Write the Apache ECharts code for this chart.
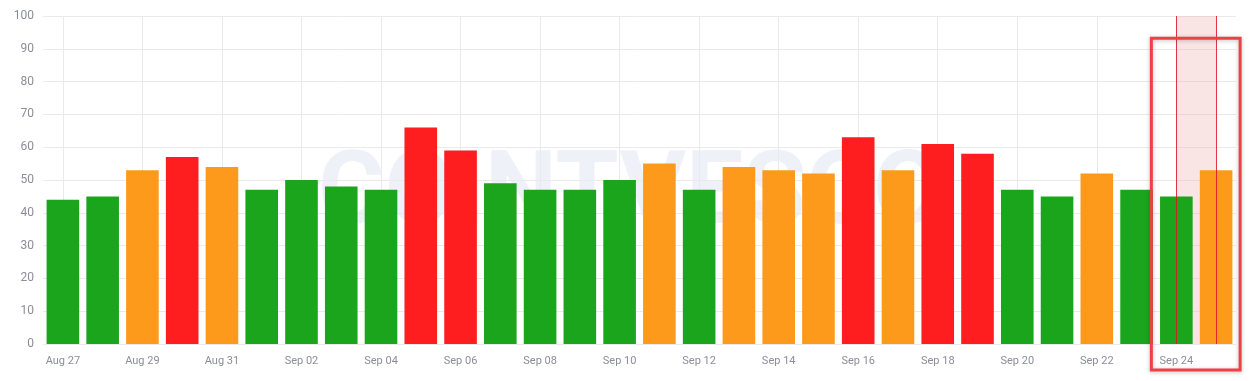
<!DOCTYPE html>
<html>
<head>
<meta charset="utf-8">
<script src="https://cdn.jsdelivr.net/npm/echarts@6/dist/echarts.min.js"></script>
<style>
html,body{margin:0;padding:0;background:#fff;}
#c{width:1250px;height:381px;}
</style>
</head>
<body>
<div id="c"></div>
<script>
const categories = ["Aug 27","Aug 28","Aug 29","Aug 30","Aug 31","Sep 01","Sep 02","Sep 03","Sep 04","Sep 05","Sep 06","Sep 07","Sep 08","Sep 09","Sep 10","Sep 11","Sep 12","Sep 13","Sep 14","Sep 15","Sep 16","Sep 17","Sep 18","Sep 19","Sep 20","Sep 21","Sep 22","Sep 23","Sep 24","Sep 25"];
const values = [44,45,53,57,54,47,50,48,47,66,59,49,47,47,50,55,47,54,53,52,63,53,61,58,47,45,52,47,45,53];
const levels = ["g","g","o","r","o","g","g","g","g","r","r","g","g","g","g","o","g","o","o","o","r","o","r","r","g","g","o","g","g","o"];
const yTicks = [0,10,20,30,40,50,60,70,80,90,100];
const highlightFrom = "Sep 24";
const highlightTo = "Sep 25";

const palette = {g:"#1aa51d", o:"#fd9a1b", r:"#fe1d1f"};

const chart = echarts.init(document.getElementById('c'), null, {renderer:'canvas'});

const gridLineCats = categories.filter((c,i)=> i % 2 === 0);

const option = {
  animation:false,
  backgroundColor:'#fff',
  grid:{left:43, right:14, top:16, bottom:37, containLabel:false},
  xAxis:{
    type:'category',
    data:categories,
    axisLine:{show:false},
    axisTick:{show:false},
    splitLine:{show:false},
    axisLabel:{
      interval:1,
      color:'#8b8d99',
      fontFamily:'Roboto',
      fontSize:11,
      margin:12
    }
  },
  yAxis:{
    type:'value',
    min:yTicks[0],
    max:yTicks[yTicks.length-1],
    interval:yTicks[1]-yTicks[0],
    axisLine:{show:false},
    axisTick:{show:false},
    axisLabel:{color:'#8b8d99', fontFamily:'Roboto', fontSize:12, margin:9},
    splitLine:{lineStyle:{color:'#e9e9ee', width:1}}
  },
  series:[
    {
      type:'line',
      data:[],
      z:0,
      silent:true,
      markLine:{
        silent:true,
        symbol:'none',
        z:0,
        label:{show:false},
        lineStyle:{color:'#e9e9ee', width:1, type:'solid'},
        data: gridLineCats.map(c=>({xAxis:c}))
      },
      markArea:{
        silent:true,
        z:0,
        itemStyle:{color:'rgba(240,170,170,0.3)'},
        data:[[{xAxis:highlightFrom},{xAxis:highlightTo}]]
      }
    },
    {
      type:'bar',
      barWidth:'82%',
      z:2,
      data: values.map((v,i)=>({value:v, itemStyle:{color:palette[levels[i]]}})),
      markLine:{
        silent:true,
        symbol:'none',
        z:10,
        label:{show:false},
        lineStyle:{color:'rgba(220,20,40,0.85)', width:1, type:'solid'},
        data:[{xAxis:highlightFrom},{xAxis:highlightTo}]
      }
    }
  ],
  graphic:[
    {
      type:'text',
      left:318,
      top:146,
      z:-1,
      silent:true,
      style:{
        text:'COINTVESCO',
        font:'bold 102px Roboto',
        fill:'rgba(225,230,242,0.55)'
      }
    }
  ]
};
chart.setOption(option);

// annotation box around the highlighted day
const p1 = chart.convertToPixel({xAxisIndex:0, yAxisIndex:0}, [highlightFrom, 92]);
const p2 = chart.convertToPixel({xAxisIndex:0, yAxisIndex:0}, [highlightTo, 0]);
chart.setOption({
  graphic:[
    option.graphic[0],
    {
      type:'rect',
      z:100,
      silent:true,
      shape:{x:p1[0]-25, y:p1[1]-4, width:(p2[0]+24)-(p1[0]-25), height:(p2[1]+26)-(p1[1]-4)},
      style:{fill:null, stroke:'#ee4146', lineWidth:3, shadowBlur:4, shadowColor:'rgba(0,0,0,0.25)', shadowOffsetY:1}
    }
  ]
});
</script>
</body>
</html>
